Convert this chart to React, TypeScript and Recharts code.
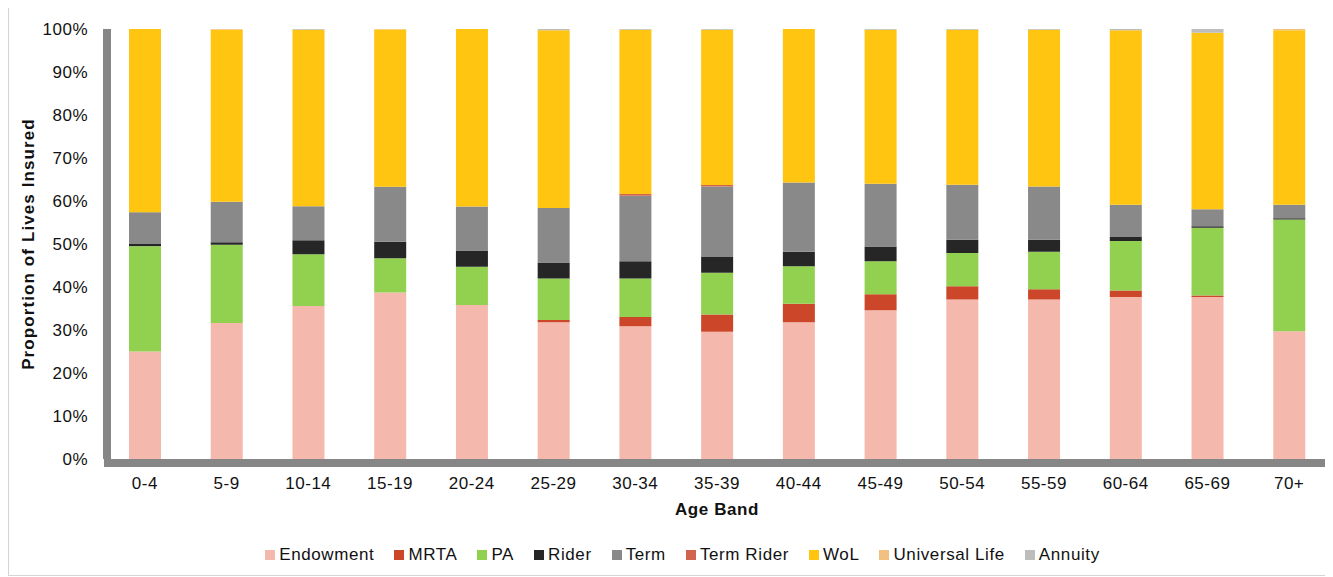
import { BarChart, Bar, XAxis, YAxis, Legend } from 'recharts';

const ageBands = ['0-4', '5-9', '10-14', '15-19', '20-24', '25-29', '30-34', '35-39', '40-44', '45-49', '50-54', '55-59', '60-64', '65-69', '70+'];

// proportion of lives insured, % of each age band
const endowment = [25.0, 31.6, 35.6, 38.7, 35.8, 31.8, 30.9, 29.6, 31.8, 34.6, 37.1, 37.1, 37.7, 37.7, 29.7];
const mrta = [0, 0, 0, 0, 0, 0.5, 2.1, 4.0, 4.3, 3.7, 3.1, 2.4, 1.5, 0.3, 0];
const pa = [24.5, 18.2, 12.0, 8.0, 8.9, 9.7, 9.0, 9.7, 8.7, 7.7, 7.7, 8.7, 11.5, 15.8, 26.0];
const rider = [0.5, 0.6, 3.3, 3.8, 3.8, 3.7, 4.0, 3.7, 3.4, 3.4, 3.1, 2.8, 0.9, 0.3, 0.3];
const term = [7.4, 9.4, 7.9, 12.8, 10.2, 12.7, 15.2, 16.4, 16.1, 14.6, 12.8, 12.4, 7.5, 4.0, 3.1];
const termRider = [0, 0, 0, 0, 0, 0, 0.4, 0.3, 0, 0, 0, 0, 0, 0, 0];
const wol = [42.6, 40.0, 41.0, 36.6, 41.3, 41.3, 38.2, 36.1, 35.7, 35.8, 36.0, 36.4, 40.6, 41.0, 40.6];
const universalLife = [0, 0.2, 0, 0.1, 0, 0, 0, 0, 0, 0, 0, 0, 0, 0, 0.3];
const annuity = [0, 0, 0.2, 0, 0, 0.3, 0.2, 0.2, 0, 0.2, 0.2, 0.2, 0.3, 0.9, 0];

const yTicks = [0, 10, 20, 30, 40, 50, 60, 70, 80, 90, 100];

const series = [
  { key: 'endowment', name: 'Endowment', color: '#F5B8AC', values: endowment },
  { key: 'mrta', name: 'MRTA', color: '#CC4729', values: mrta },
  { key: 'pa', name: 'PA', color: '#92D050', values: pa },
  { key: 'rider', name: 'Rider', color: '#262626', values: rider },
  { key: 'term', name: 'Term', color: '#898989', values: term },
  { key: 'termRider', name: 'Term Rider', color: '#D2644F', values: termRider },
  { key: 'wol', name: 'WoL', color: '#FFC510', values: wol },
  { key: 'universalLife', name: 'Universal Life', color: '#F2C182', values: universalLife },
  { key: 'annuity', name: 'Annuity', color: '#BDBDBD', values: annuity },
];

const data = ageBands.map((band, i) => {
  const row: Record<string, string | number> = { band };
  series.forEach(s => {
    row[s.key] = s.values[i];
  });
  return row;
});

const FONT = 'Arial, "Liberation Sans", sans-serif';
const AXIS_GREY = '#868686';

function renderLegend() {
  return (
    <div
      style={{
        display: 'flex',
        justifyContent: 'center',
        alignItems: 'center',
        height: 24,
        paddingLeft: 46,
        fontFamily: FONT,
        fontSize: 17,
        letterSpacing: 0.6,
        color: '#111',
      }}
    >
      {series.map(s => (
        <span key={s.key} style={{ display: 'flex', alignItems: 'center', marginRight: 20 }}>
          <span style={{ width: 10, height: 10, background: s.color, marginRight: 4, display: 'inline-block' }} />
          {s.name}
        </span>
      ))}
    </div>
  );
}

export default function App() {
  return (
    <div style={{ width: 1322, height: 567, border: '1px solid #D4D4D4', marginTop: -1 }}>
      <BarChart
        width={1322}
        height={567}
        data={data}
        margin={{ top: 21, right: 1, bottom: 8, left: 0 }}
        barSize={32}
      >
        <XAxis
          dataKey="band"
          height={84}
          tickLine={false}
          tickSize={0}
          tickMargin={18}
          axisLine={{ stroke: AXIS_GREY, strokeWidth: 8, transform: 'translate(0,4)' }}
          tick={{ fill: '#111', fontSize: 17, fontFamily: FONT, letterSpacing: 0.5 }}
          label={{
            value: 'Age Band',
            position: 'insideBottom',
            offset: 28,
            style: { fill: '#111', fontSize: 17, fontWeight: 'bold', fontFamily: FONT, letterSpacing: 0.6 },
          }}
        />
        <YAxis
          width={95}
          domain={[0, 100]}
          ticks={yTicks}
          tickFormatter={(v: number) => `${v}%`}
          tickLine={false}
          tickSize={0}
          tickMargin={16}
          axisLine={{ stroke: AXIS_GREY, strokeWidth: 8, transform: 'translate(3,0)' }}
          tick={{ fill: '#111', fontSize: 17, fontFamily: FONT, letterSpacing: 0.5 }}
          label={{
            value: 'Proportion of Lives Insured',
            angle: -90,
            position: 'insideLeft',
            offset: 19,
            style: { textAnchor: 'middle', fill: '#111', fontSize: 17, fontWeight: 'bold', fontFamily: FONT, letterSpacing: 1.1 },
          }}
        />
        <Legend verticalAlign="bottom" content={renderLegend} />
        {series.map(s => (
          <Bar
            key={s.key}
            dataKey={s.key}
            name={s.name}
            stackId="lives"
            fill={s.color}
            isAnimationActive={false}
          />
        ))}
      </BarChart>
    </div>
  );
}
